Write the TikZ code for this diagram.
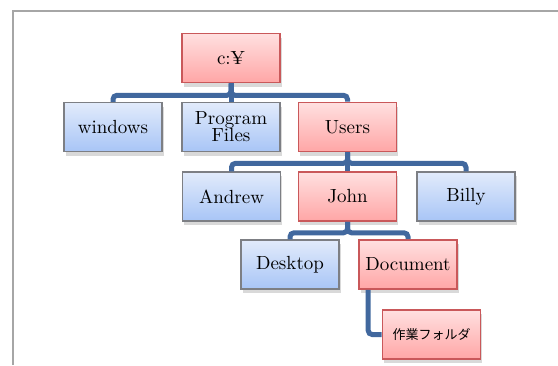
\documentclass[tikz,border=0pt]{standalone}
\usepackage{fontspec}
\newfontfamily\jpfont{Noto Sans CJK JP}
\usetikzlibrary{positioning, shadows}
\definecolor{pathRed}{HTML}{C9585A}
\definecolor{pathTop}{HTML}{FFE0E0}
\definecolor{pathBot}{HTML}{FFA6A6}
\definecolor{dirTop}{HTML}{E2EBFB}
\definecolor{dirBot}{HTML}{A8C5F6}
\definecolor{dirEdge}{HTML}{7D7F84}
\definecolor{linkBlue}{HTML}{41689E}
\definecolor{frameGray}{HTML}{A6A6A6}

\tikzset{
  folder/.style={rectangle, minimum width=49pt, minimum height=24.5pt,
    inner sep=1pt, align=center, font=\fontsize{9.5}{10.5}\selectfont,
    drop shadow={shadow xshift=0.8pt, shadow yshift=-2pt,
      opacity=0.15, fill=black}},
  onpath/.style={folder, draw=pathRed, line width=0.8pt,
    top color=pathTop, bottom color=pathBot},
  other/.style={folder, draw=dirEdge, line width=0.6pt,
    top color=dirTop, bottom color=dirBot},
  link/.style={draw=linkBlue, line width=2.5pt, rounded corners=2pt}
}

\begin{document}
\begin{tikzpicture}[x=0.5pt, y=-0.5pt]
  \useasboundingbox (0,0) rectangle (558,365);
  % page frame
  \draw[frameGray, line width=0.8pt] (13,365) -- (13,11) -- (558,11);

  % folders, row by row
  \node[onpath] (root) at (231,58) {c:¥};

  \node[other]  (win)   at (113,127) {windows};
  \node[other]  (prog)  at (231,127) {Program\\[-2pt]Files};
  \node[onpath] (users) at (347.5,127) {Users};

  \node[other]  (andrew) at (231.5,196.5) {Andrew};
  \node[onpath] (john)   at (347.5,196.5) {John};
  \node[other]  (billy)  at (466,196.5) {Billy};

  \node[other]  (desk) at (290,264.5) {Desktop};
  \node[onpath] (doc)  at (408,264.5) {Document};

  \node[onpath, font=\jpfont\fontsize{6.5}{8}\selectfont] (work) at (431.5,334.5) {作業フォルダ};

  % tree links
  \draw[link] (root.south) -- ++(0,12) -| (win.north);
  \draw[link] (root.south) -- ++(0,12) -| (users.north);
  \draw[link] (root.south) -- (prog.north);

  \draw[link] (users.south) -- ++(0,11) -| (andrew.north);
  \draw[link] (users.south) -- ++(0,11) -| (billy.north);
  \draw[link] (users.south) -- (john.north);

  \draw[link] (john.south) -- ++(0,11) -| (desk.north);
  \draw[link] (john.south) -- ++(0,11) -| (doc.north);

  \draw[link] ([xshift=5pt]doc.south west) |- (work.west);
\end{tikzpicture}
\end{document}
